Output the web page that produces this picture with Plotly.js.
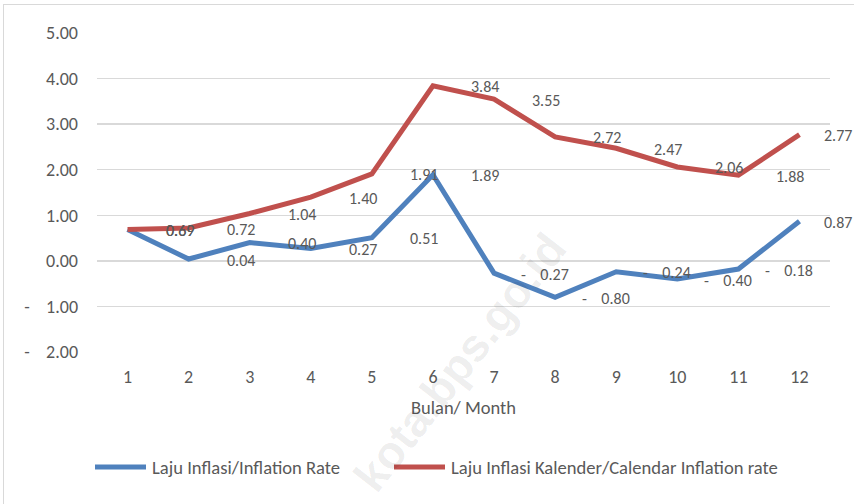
<!DOCTYPE html>
<html>
<head>
<meta charset="utf-8">
<script src="https://cdn.plot.ly/plotly-3.0.1.min.js"></script>
<style>
  body { margin: 0; background: #fff; }
  #frame { position: absolute; left: 3px; top: 4px; width: 900px; height: 560px; border: 1px solid #d9d9d9; }
  #chart { position: absolute; left: 0; top: 0; width: 854px; height: 504px; }
</style>
</head>
<body>
<div id="frame"></div>
<div id="chart"></div>
<script>
// months 1..12
var months = [1, 2, 3, 4, 5, 6, 7, 8, 9, 10, 11, 12];
// Laju Inflasi / Inflation Rate (month to month)
var inflation = [0.69, 0.04, 0.40, 0.27, 0.51, 1.89, -0.27, -0.80, -0.24, -0.40, -0.18, 0.87];
// Laju Inflasi Kalender / Calendar Inflation rate
var calendar = [0.69, 0.72, 1.04, 1.40, 1.91, 3.84, 3.55, 2.72, 2.47, 2.06, 1.88, 2.77];
var seriesNames = ['Laju Inflasi/Inflation Rate', 'Laju Inflasi Kalender/Calendar Inflation rate'];
var seriesColors = ['#4F81BD', '#C0504D'];

var yTicks = [-2, -1, 0, 1, 2, 3, 4, 5];

var NB = '\u00A0';
var textColor = '#595959';
var fontFam = "Carlito, 'Liberation Sans Narrow', 'Liberation Sans', Arial, sans-serif";

// plot area in pixels (used for the hand made legend)
var M = {l: 97, r: 24, t: 33, b: 152};
var plotW = 854 - M.l - M.r, plotH = 504 - M.t - M.b;
function px(x){ return (x - M.l) / plotW; }
function py(y){ return (504 - M.b - y) / plotH; }

// accounting style: "-    1.00"
function acct(v, pad){
	const s = Math.abs(v).toFixed(2);
	return v < 0 ? '-' + NB.repeat(pad) + s : s;
}

var data = [inflation, calendar].map(function(ys, k){
	return {
		name: seriesNames[k],
		x: months, y: ys,
		mode: 'lines',
		line: {color: seriesColors[k], width: 5},
		showlegend: false
	};
});

// data labels, pushed to the right like the excel ones
var annotations = [];
for(const series of [inflation, calendar]){
	series.forEach(function(v, i){
		const last = i === series.length - 1;
		annotations.push({
			x: months[i], y: v,
			text: acct(v, 4),
			showarrow: false,
			xanchor: 'left', yanchor: 'middle',
			xshift: last ? 23 : (v < 0 ? 25 : 36),
			yshift: -1,
			font: {family: fontFam, size: 16, color: textColor}
		});
	});
}

// legend drawn by hand so the line samples are as long as in excel
var shapes = [];
var legendY = 467;
var legendItems = [[93, 148], [392, 447]];
legendItems.forEach(function(it, k){
	shapes.push({
		type: 'line', xref: 'paper', yref: 'paper',
		x0: px(it[0] + 2), x1: px(it[1] - 2), y0: py(legendY), y1: py(legendY),
		line: {color: seriesColors[k], width: 5}
	});
	annotations.push({
		xref: 'paper', yref: 'paper',
		x: px(it[1] + 2), y: py(legendY),
		xanchor: 'left', yanchor: 'middle',
		text: seriesNames[k],
		showarrow: false,
		font: {family: fontFam, size: 18.6, color: textColor}
	});
});

// watermark
annotations.push({
	xref: 'paper', yref: 'paper',
	x: px(460), y: py(362),
	xanchor: 'center', yanchor: 'middle',
	text: '<b>kota.bps.go.id</b>',
	showarrow: false,
	textangle: -52,
	font: {family: "'Liberation Sans', Arial, sans-serif", size: 46, color: 'rgba(0,0,0,0.08)'}
});

var layout = {
	width: 854, height: 504,
	margin: M,
	paper_bgcolor: 'rgba(0,0,0,0)',
	plot_bgcolor: 'rgba(0,0,0,0)',
	font: {family: fontFam, size: 18, color: textColor},
	showlegend: false,
	xaxis: {
		range: [0.5, 12.5],
		tickvals: months,
		ticktext: months.map(String),
		showgrid: false, zeroline: false, showline: false,
		ticks: '',
		ticklabelstandoff: 12,
		title: {text: 'Bulan/ Month', standoff: 14, font: {size: 18.5}},
		fixedrange: true
	},
	yaxis: {
		range: [-2, 5],
		tickvals: yTicks,
		ticktext: yTicks.map(function(v){ return acct(v, 4); }),
		showgrid: true, gridcolor: '#d9d9d9', gridwidth: 1.3,
		zeroline: false, showline: false,
		ticks: '',
		ticklabelstandoff: 18,
		fixedrange: true
	},
	shapes: shapes,
	annotations: annotations
};

Plotly.newPlot('chart', data, layout, {displayModeBar: false, staticPlot: true});
</script>
</body>
</html>
